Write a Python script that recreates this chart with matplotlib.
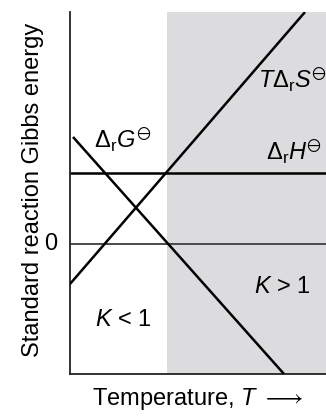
import matplotlib
matplotlib.use("Agg")
import matplotlib.pyplot as plt

plt.rcParams['font.family'] = ['Liberation Sans', 'DejaVu Sans']
plt.rcParams['mathtext.fontset'] = 'custom'
plt.rcParams['mathtext.rm'] = 'Liberation Sans'
plt.rcParams['mathtext.it'] = 'Liberation Sans:italic'
plt.rcParams['mathtext.sf'] = 'Liberation Sans'
plt.rcParams['mathtext.fallback'] = 'stixsans'

# data (arbitrary units)
T_S = [0.0, 23.5]
TdS = [-4.0, 23.2]
T_G = [0.3, 21.4]
dG = [10.7, -13.0]
dH = 7.1
T_switch = 9.7
xlim = (0.0, 25.6)
ylim = (-13.0, 23.2)

fig = plt.figure(figsize=(3.26, 4.17), dpi=100)
ax = fig.add_axes([70/326, 43/417, 1 - 70/326, 362/417])
ax.set_xlim(*xlim)
ax.set_ylim(*ylim)

ax.axvspan(T_switch, xlim[1], color='#dcdcde', lw=0, zorder=0)
ax.axhline(0, color='#4a4a4a', lw=1.4, zorder=1)
ax.axhline(dH, color='black', lw=1.8, zorder=2)
ax.plot(T_S, TdS, color='black', lw=1.8, solid_capstyle='butt', zorder=3)
ax.plot(T_G, dG, color='black', lw=1.8, solid_capstyle='butt', zorder=3)

for s in ['top', 'right']:
    ax.spines[s].set_visible(False)
for s in ['left', 'bottom']:
    ax.spines[s].set_linewidth(1.3)
    ax.spines[s].set_color('#222222')
ax.set_xticks([])
ax.set_yticks([])

fs = 17
ax.text(-1.9, 0, '0', fontsize=fs, ha='center', va='center')
ax.text(2.4, 9.6, r'$\Delta_{\mathrm{r}}G^{\ominus}$', fontsize=fs, va='baseline')
ax.text(18.8, 15.6, r'$T\Delta_{\mathrm{r}}S^{\ominus}$', fontsize=fs, va='baseline')
ax.text(19.6, 8.4, r'$\Delta_{\mathrm{r}}H^{\ominus}$', fontsize=fs, va='baseline')
ax.text(2.5, -8.2, r'$K$ < 1', fontsize=fs, va='baseline')
ax.text(18.4, -4.9, r'$K$ > 1', fontsize=fs, va='baseline')

fig.text(33/326, 1 - 190/417, 'Standard reaction Gibbs energy', rotation=90,
         fontsize=fs, ha='center', va='center')
fig.text(92/326, 1 - 405/417, r'Temperature, $T\ \longrightarrow$', fontsize=fs,
         ha='left', va='baseline')

fig.savefig('out.png', dpi=100)
